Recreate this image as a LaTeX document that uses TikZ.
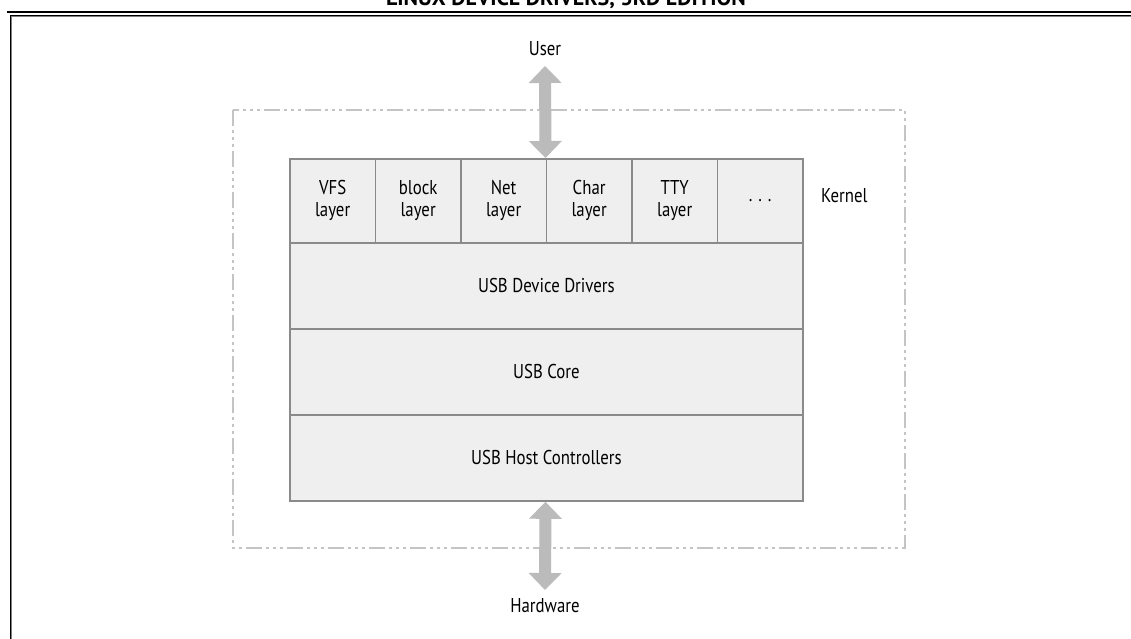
\documentclass[tikz,border=0pt]{standalone}
\usepackage{fontspec}
\setmainfont{PT Sans}[FakeStretch=0.84]
\newfontfamily\hdrfont{PT Sans}
\usetikzlibrary{arrows.meta}
\definecolor{boxfill}{HTML}{EFEFEF}
\definecolor{boxline}{HTML}{8A8A8A}
\definecolor{arrowgray}{HTML}{BBBBBB}
\definecolor{dashgray}{HTML}{C4C4C4}
\tikzset{
  cell/.style={draw=boxline, line width=1.8pt, fill=boxfill, anchor=north west,
    inner sep=0pt, align=center, font=\fontsize{20}{22}\selectfont},
  layercell/.style={cell, minimum width=85.5pt, minimum height=84pt},
  rowcell/.style={cell, minimum width=513pt, minimum height=86pt},
  label/.style={font=\fontsize{20}{22}\selectfont, inner sep=0pt},
  bigarrow/.style={arrowgray, line width=12pt,
    {Triangle[width=32pt,length=17pt]}-{Triangle[width=32pt,length=17pt]}},
}
\begin{document}
\begin{tikzpicture}[x=1pt,y=-1pt]
\useasboundingbox (0,0) rectangle (1131,639);
\fill[white] (0,0) rectangle (1131,639);
% page header (cut off at the top edge, as in the reference)
\node[font=\hdrfont\bfseries\fontsize{22}{22}\selectfont, anchor=base, inner sep=0pt] (hdr) at (566,5.5) {LINUX DEVICE DRIVERS, 3RD EDITION};
\draw[black, line width=2.2pt] (7,12) -- (1131,12);
\draw[black, line width=1.2pt] (10.6,639) -- (10.6,15.6) -- (1131,15.6);
\draw[gray, line width=1.2pt] (11.8,639) -- (11.8,16.8) -- (1131,16.8);
% kernel region
\draw[dashgray, line width=1.4pt, dash pattern=on 16pt off 4pt on 3pt off 4pt on 3pt off 4pt on 3pt off 4pt]
  (233,110) rectangle (905,548);
\node[label, anchor=west] (kernel) at (821,196) {Kernel};
% layer row
\node[layercell] (vfs)   at (289,158)   {VFS\\layer};
\node[layercell] (block) at (374.5,158) {block\\layer};
\node[layercell] (net)   at (460,158)   {Net\\layer};
\node[layercell] (char)  at (545.5,158) {Char\\layer};
\node[layercell] (tty)   at (631,158)   {TTY\\layer};
\node[layercell] (more)  at (716.5,158) {. . .};
% stacked rows
\node[rowcell] (dd)   at (289,242) {USB Device Drivers};
\node[rowcell] (core) at (289,328) {USB Core};
\node[rowcell] (hc)   at (289,414) {USB Host Controllers};
% user / hardware
\node[label] (user) at (545,49) {User};
\node[label] (hw) at (545,606) {Hardware};
\coordinate (utip) at (545,66);
\coordinate (htip) at (545,590);
\draw[bigarrow] (utip) -- (char.north west);
\draw[bigarrow] (hc.south -| char.north west) -- (htip);
\end{tikzpicture}
\end{document}
